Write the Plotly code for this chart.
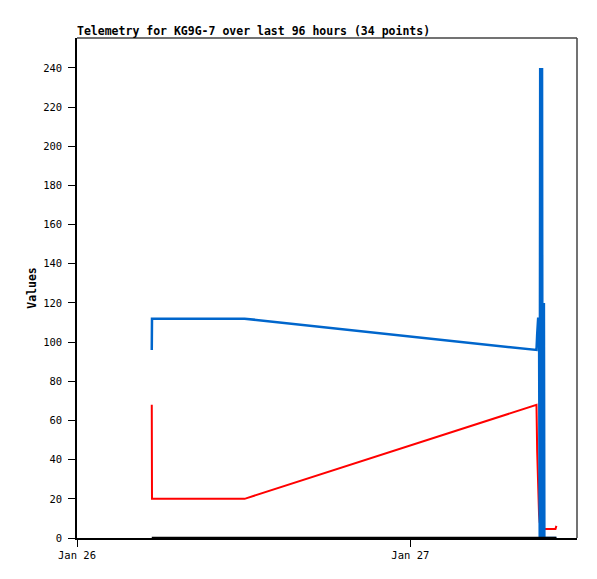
import plotly.graph_objects as go

times = [
    "2024-01-26 05:23", "2024-01-26 05:24", "2024-01-26 12:04",
    "2024-01-27 09:05", "2024-01-27 09:08", "2024-01-27 09:12",
    "2024-01-27 09:16", "2024-01-27 09:19", "2024-01-27 09:21",
    "2024-01-27 09:23", "2024-01-27 09:25", "2024-01-27 09:27",
    "2024-01-27 09:29", "2024-01-27 09:31", "2024-01-27 09:33",
    "2024-01-27 09:35", "2024-01-27 09:37", "2024-01-27 09:39",
    "2024-01-27 09:44", "2024-01-27 09:47", "2024-01-27 09:50",
    "2024-01-27 09:53", "2024-01-27 09:56", "2024-01-27 09:59",
    "2024-01-27 10:02", "2024-01-27 10:05", "2024-01-27 10:08",
    "2024-01-27 10:11", "2024-01-27 10:14", "2024-01-27 10:17",
    "2024-01-27 10:20", "2024-01-27 10:23", "2024-01-27 10:27",
    "2024-01-27 10:31",
]
blue_vals = [96, 112, 112, 96, 104, 112, 112, 0, 240, 0, 240, 0, 240, 0, 120, 0, 120, 0,
             0, 0, 0, 0, 0, 0, 0, 0, 0, 0, 0, 0, 0, 0, 0, 0]
red_vals = [68, 20, 20, 68, 44, 20, 12, 8, 6, 5, 5, 5, 5, 5, 5, 5, 4.6, 4.6,
            4.6, 4.6, 4.6, 4.6, 4.6, 4.6, 4.6, 4.6, 4.6, 4.6, 4.6, 4.6, 4.6, 4.6, 4.6, 6.2]
black_vals = [0] * 34

y_ticks = [0, 20, 40, 60, 80, 100, 120, 140, 160, 180, 200, 220, 240]
x_ticks = ["2024-01-26", "2024-01-27"]
x_tick_text = ["Jan 26", "Jan 27"]
title_text = "Telemetry for KG9G-7 over last 96 hours (34 points)"

mono = "DejaVu Sans Mono"
W, H = 589, 571  # page has an 8px body margin

fig = go.Figure()
fig.add_trace(go.Scatter(x=times, y=red_vals, mode="lines",
                         line=dict(color="#FF0000", width=2), showlegend=False))
fig.add_trace(go.Scatter(x=times, y=blue_vals, mode="lines",
                         line=dict(color="#0066CC", width=2.5), showlegend=False))
fig.add_trace(go.Scatter(x=times, y=black_vals, mode="lines",
                         line=dict(color="#000000", width=2.5), showlegend=False))

fig.update_layout(
    width=W, height=H,
    margin=dict(l=69, r=20, t=30, b=41),
    paper_bgcolor="white", plot_bgcolor="white",
    title=dict(text="<b>" + title_text + "</b>", x=69 / W, xanchor="left",
               y=1 - 27 / H, yanchor="bottom",
               font=dict(family=mono, size=11.5, color="black")),
    font=dict(family=mono, size=10, color="black"),
    shapes=[
        dict(type="line", xref="paper", yref="paper", x0=0, x1=1, y0=1, y1=1,
             line=dict(color="#444444", width=1.5)),
        dict(type="line", xref="paper", yref="paper", x0=1, x1=1, y0=0, y1=1,
             line=dict(color="#444444", width=1.5)),
    ],
)
fig.update_xaxes(
    type="date", range=["2024-01-26 00:00", "2024-01-27 12:00"],
    tickvals=x_ticks, ticktext=x_tick_text,
    showgrid=False, zeroline=False,
    showline=True, linecolor="black", linewidth=1.5,
    ticks="outside", ticklen=7, tickcolor="black", tickwidth=1,
    tickfont=dict(family=mono, size=10.5, color="black"),
)
fig.update_yaxes(
    range=[0, 255.3], tickvals=y_ticks,
    showgrid=False, zeroline=False,
    showline=True, linecolor="black", linewidth=1.5,
    ticks="outside", ticklen=7, tickcolor="black", tickwidth=1,
    tickfont=dict(family=mono, size=10.5, color="black"),
    ticklabelstandoff=4,
    title=dict(text="<b>Values</b>", font=dict(family=mono, size=11.5, color="black"),
               standoff=4),
)

fig.write_html("out.html")
